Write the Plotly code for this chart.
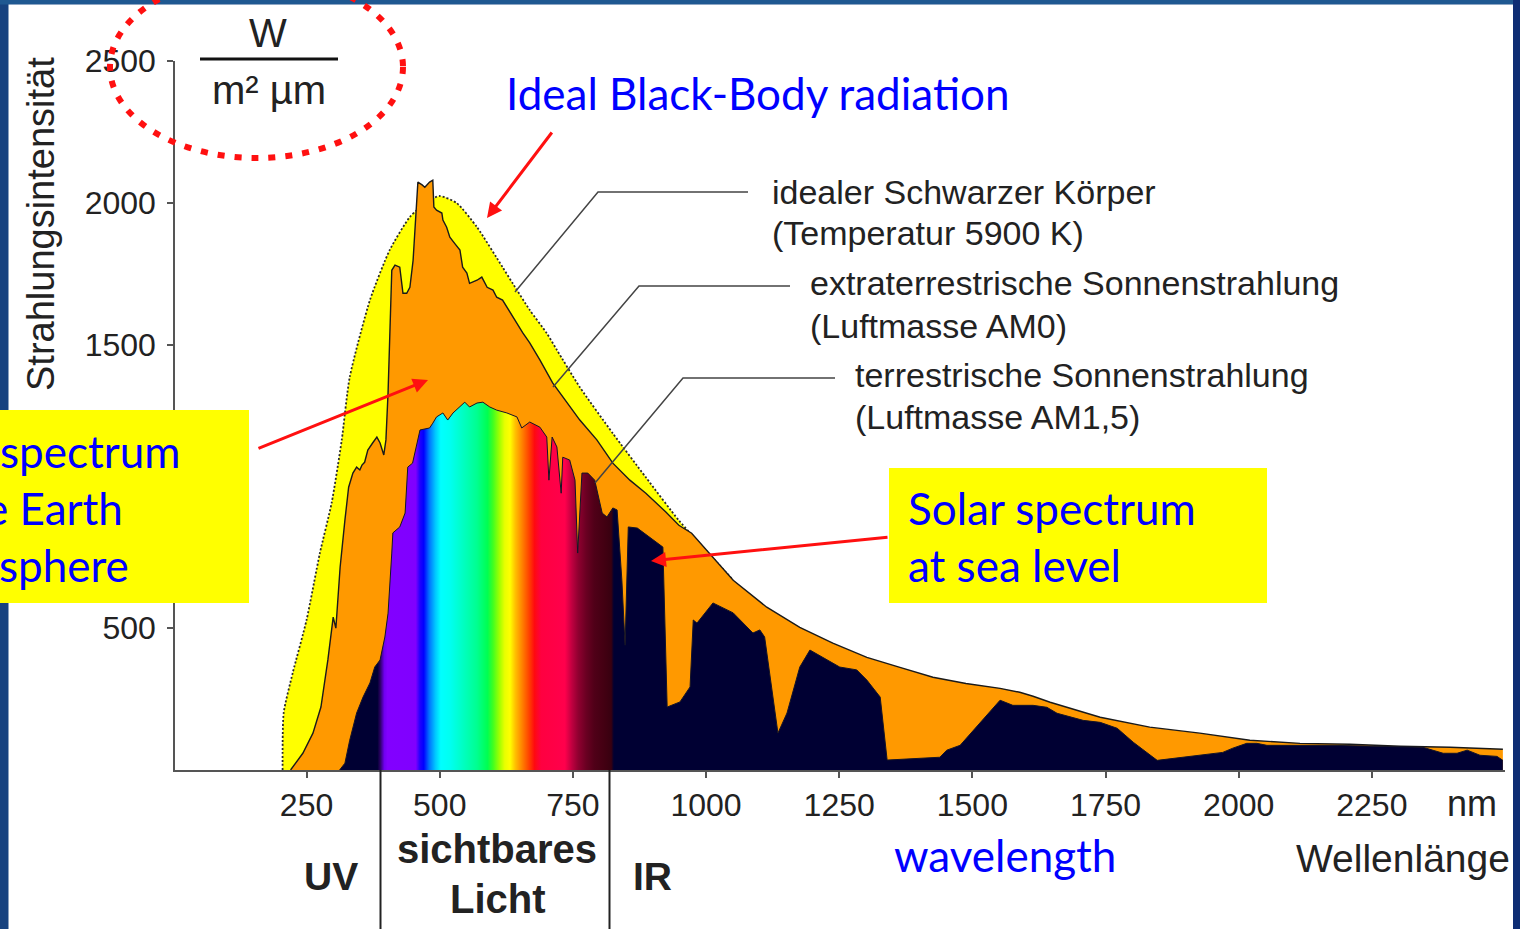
import plotly.graph_objects as go

# ---- spectra: wavelength in nm, spectral irradiance in W/(m² µm) ----
bb_nm = [205, 207, 224, 250, 275, 297, 316, 331, 369, 406, 444, 476, 500, 532,
         570, 618, 637, 669, 701, 720, 763, 825, 887, 949, 1000, 1051]
bb_val = [0, 201, 342, 529, 765, 941, 1163, 1385, 1657, 1833, 1950, 2003, 2024, 1999,
          1914, 1773, 1716, 1622, 1540, 1481, 1350, 1187, 1032, 880, 774, 669]

am0_nm = [220, 243, 262, 277, 290, 298, 300, 305, 313, 322, 329, 337, 344, 350, 354,
          359, 365, 374, 382, 388, 395, 399, 403, 410, 416, 425, 431, 438, 444, 450,
          458, 459, 467, 472, 481, 487, 489, 494, 504, 506, 513, 519, 528, 538, 543,
          551, 556, 570, 579, 589, 600, 607, 618, 626, 637, 656, 669, 688, 712, 739,
          763, 795, 825, 857, 887, 925, 949, 973, 999, 1051, 1114, 1176, 1238, 1302,
          1364, 1426, 1488, 1552, 1589, 1614, 1646, 1740, 1833, 1927, 2021, 2115,
          2209, 2303, 2397, 2496]
am0_val = [0, 59, 130, 222, 388, 504, 539, 500, 715, 881, 997, 1047, 1068, 1058, 1075,
           1085, 1128, 1153, 1174, 1153, 1111, 1164, 1330, 1762, 1780, 1773, 1681, 1681,
           1702, 1797, 2055, 2073, 2063, 2055, 2073, 2080, 1985, 1974, 1964, 1939, 1914,
           1879, 1857, 1833, 1773, 1752, 1716, 1727, 1738, 1702, 1692, 1667, 1657, 1632,
           1597, 1541, 1506, 1446, 1365, 1294, 1234, 1164, 1082, 1022, 976, 909, 863,
           835, 779, 669, 574, 503, 447, 397, 362, 327, 305, 288, 274, 260, 239, 186,
           151, 130, 105, 94, 91, 84, 80, 73]

am15_nm = [312, 322, 331, 344, 356, 369, 378, 388, 397, 403, 410, 412, 425, 435, 440,
           449, 463, 481, 487, 494, 506, 515, 525, 538, 547, 556, 570, 581, 594, 607,
           626, 645, 654, 669, 688, 701, 705, 711, 720, 728, 731, 744, 754, 759, 767,
           778, 791, 805, 814, 825, 833, 842, 848, 854, 871, 919, 927, 951, 970, 976,
           983, 1013, 1051, 1088, 1101, 1110, 1125, 1135, 1152, 1176, 1195, 1227, 1251,
           1283, 1302, 1327, 1340, 1439, 1452, 1477, 1552, 1576, 1614, 1640, 1659, 1708,
           1740, 1772, 1802, 1847, 1927, 1970, 1989, 2015, 2034, 2053, 2177, 2346, 2384,
           2410, 2429, 2453, 2485, 2496]
am15_val = [0, 24, 105, 201, 257, 307, 363, 388, 469, 553, 765, 836, 857, 906, 1068,
            1082, 1199, 1206, 1223, 1245, 1259, 1234, 1259, 1280, 1297, 1280, 1294, 1297,
            1280, 1269, 1259, 1245, 1206, 1227, 1209, 1174, 1022, 1174, 1139, 976, 1103,
            1093, 1022, 765, 1047, 1047, 1022, 906, 892, 924, 917, 669, 440, 857, 853,
            786, 222, 240, 293, 529, 518, 589, 554, 483, 494, 469, 257, 130, 201, 363,
            423, 388, 363, 353, 317, 257, 35, 45, 70, 87, 246, 228, 228, 221, 200, 175,
            168, 147, 98, 34, 52, 62, 77, 94, 94, 87, 87, 80, 59, 59, 70, 52, 48, 34]

# colour of the sea-level spectrum along the wavelength axis (visible band as rainbow)
band_nm = [0, 383, 388, 396, 402, 455, 463, 470, 480, 492, 502, 520, 545, 570, 590,
           600, 612, 622, 632, 642, 655, 668, 678, 690, 735, 748, 760, 775, 790, 810,
           822, 827, 2500]
band_col = ["#000033", "#000033", "#2a0060", "#7000f0", "#8200ff", "#8000ff", "#2000ff",
            "#0000ff", "#0070ff", "#00c8ff", "#00ffff", "#00fff0", "#00ffc0", "#00ff90",
            "#00ff50", "#40ff20", "#a0ff00", "#e8ff00", "#ffff00", "#ffc000", "#ff8000",
            "#ff4000", "#ff0a10", "#ff0040", "#ff004c", "#c00040", "#900030", "#6a0022",
            "#500018", "#420012", "#380010", "#000033", "#000033"]

x_ticks = [250, 500, 750, 1000, 1250, 1500, 1750, 2000, 2250]
y_ticks = [500, 1000, 1500, 2000, 2500]

# ---- page geometry ----
W, H = 1520, 929
ML, MR, MT, MB = 175, 15, 61, 159
PW, PH = W - ML - MR, H - MT - MB


def px(x):
    return (x - ML) / PW


def py(y):
    return (H - MB - y) / PH


GREY_FONT = "Liberation Sans, Arial, sans-serif"
BLUE_FONT = "Lato, Open Sans, sans-serif"
BLUE = "#0000ff"
RED = "#ff1010"

fig = go.Figure()

fig.add_trace(go.Scatter(
    x=bb_nm, y=bb_val, mode="lines", fill="tozeroy", fillcolor="#ffff00",
    line=dict(color="#2a2a2a", width=1.8, dash="2px,2px", shape="spline", smoothing=0.6),
    hoverinfo="skip", showlegend=False))

fig.add_trace(go.Scatter(
    x=am0_nm, y=am0_val, mode="lines", fill="tozeroy", fillcolor="#ff9900",
    line=dict(color="#1a1a1a", width=1.4),
    hoverinfo="skip", showlegend=False))

fig.add_trace(go.Scatter(
    x=am15_nm, y=am15_val, mode="lines", fill="tozeroy",
    fillgradient=dict(type="horizontal", start=0, stop=2500,
                      colorscale=[[n / 2500, c] for n, c in zip(band_nm, band_col)]),
    line=dict(color="#141428", width=1),
    hoverinfo="skip", showlegend=False))

shapes = [
    # slide frame
    dict(type="rect", xref="paper", yref="paper", x0=px(0), x1=px(W), y0=py(0), y1=py(4.5),
         fillcolor="#1f5891", line_width=0, layer="below"),
    dict(type="rect", xref="paper", yref="paper", x0=px(1513), x1=px(W), y0=py(0), y1=py(H),
         fillcolor="#0e2d74", line_width=0, layer="below"),
    dict(type="rect", xref="paper", yref="paper", x0=px(8.5), x1=px(1513), y0=py(4.5), y1=py(H),
         fillcolor="white", line_width=0, layer="below"),
    # UV / visible / IR separators
    dict(type="line", xref="paper", yref="paper", x0=px(380.5), x1=px(380.5), y0=py(770), y1=py(H),
         line=dict(color="#222", width=2)),
    dict(type="line", xref="paper", yref="paper", x0=px(609.5), x1=px(609.5), y0=py(770), y1=py(H),
         line=dict(color="#222", width=2)),
    # unit fraction bar
    dict(type="line", xref="paper", yref="paper", x0=px(200), x1=px(338), y0=py(59), y1=py(59),
         line=dict(color="#111", width=3)),
    # label leader lines
    dict(type="path", xref="paper", yref="paper",
         path=f"M{px(748)},{py(192)} L{px(598)},{py(192)} L{px(515)},{py(292)}",
         line=dict(color="#444", width=1.5)),
    dict(type="path", xref="paper", yref="paper",
         path=f"M{px(790)},{py(286)} L{px(639)},{py(286)} L{px(553)},{py(387)}",
         line=dict(color="#444", width=1.5)),
    dict(type="path", xref="paper", yref="paper",
         path=f"M{px(835)},{py(378)} L{px(683)},{py(378)} L{px(595)},{py(483)}",
         line=dict(color="#444", width=1.5)),
    # highlighted boxes
    dict(type="rect", xref="paper", yref="paper", x0=px(889), x1=px(1267), y0=py(603), y1=py(468),
         fillcolor="#ffff00", line_width=0, layer="above"),
    dict(type="rect", xref="paper", yref="paper", x0=px(0), x1=px(249), y0=py(603), y1=py(410),
         fillcolor="#ffff00", line_width=0, layer="above"),
    # dotted ring around the unit
    dict(type="circle", xref="paper", yref="paper", x0=px(110), x1=px(403), y0=py(158), y1=py(-24),
         line=dict(color=RED, width=6, dash="7px,10px"), layer="above"),
]


def label(text, x, y, size, color="#222", family=GREY_FONT, xanchor="left", **kw):
    return dict(text=text, x=px(x), y=py(y), xref="paper", yref="paper", showarrow=False,
                xanchor=xanchor, yanchor="middle", font=dict(size=size, color=color, family=family), **kw)


def arrow(head_x, head_y, tail_x, tail_y):
    return dict(text="", x=px(head_x), y=py(head_y), xref="paper", yref="paper",
                ax=tail_x - head_x, ay=tail_y - head_y, axref="pixel", ayref="pixel",
                showarrow=True, arrowhead=2, arrowsize=1, arrowwidth=3, arrowcolor=RED,
                standoff=0, startstandoff=0)


annotations = [
    label("idealer Schwarzer Körper", 770, 192, 34),
    label("(Temperatur 5900 K)", 770, 233, 34),
    label("extraterrestrische Sonnenstrahlung", 808, 283, 34),
    label("(Luftmasse AM0)", 808, 326, 34),
    label("terrestrische Sonnenstrahlung", 853, 375, 34),
    label("(Luftmasse AM1,5)", 853, 417, 34),
    label("W", 268, 33, 40, xanchor="center"),
    label("m² µm", 269, 90, 40, xanchor="center"),
    label("Strahlungsintensität", 41, 224, 38, xanchor="center", textangle=-90),
    label("nm", 1445, 803, 36),
    label("Wellenlänge", 1294, 858, 39),
    label("<b>UV</b>", 331, 876, 39, xanchor="center"),
    label("<b>sichtbares</b>", 497, 849, 40, xanchor="center"),
    label("<b>Licht</b>", 498, 899, 40, xanchor="center"),
    label("<b>IR</b>", 652, 876, 39, xanchor="center"),
    label("Ideal Black-Body radiation", 504, 93, 44, color=BLUE, family=BLUE_FONT),
    label("Solar spectrum", 906, 508, 44, color=BLUE, family=BLUE_FONT),
    label("at sea level", 906, 565, 44, color=BLUE, family=BLUE_FONT),
    label("spectrum", -2, 451, 44, color=BLUE, family=BLUE_FONT),
    label("e Earth", -17, 508, 44, color=BLUE, family=BLUE_FONT),
    label("sphere", -3, 565, 44, color=BLUE, family=BLUE_FONT),
    label("wavelength", 892, 855, 44, color=BLUE, family=BLUE_FONT),
    arrow(487, 218, 553, 131),
    arrow(428, 380, 257, 449),
    arrow(651, 561, 889, 537),
]

fig.update_layout(
    width=W, height=H, margin=dict(l=ML, r=MR, t=MT, b=MB, pad=0),
    paper_bgcolor="#17427f", plot_bgcolor="rgba(0,0,0,0)",
    shapes=shapes, annotations=annotations, showlegend=False,
    xaxis=dict(range=[3, 2500], tickvals=x_ticks, ticktext=[str(v) for v in x_ticks],
               showgrid=False, zeroline=False, showline=True, linecolor="#555", linewidth=1.5,
               ticks="outside", ticklen=6, tickwidth=1.5, tickcolor="#555",
               tickfont=dict(family=GREY_FONT, size=32, color="#222"), ticklabelstandoff=0),
    yaxis=dict(range=[0, 2500], tickvals=y_ticks, ticktext=[str(v) for v in y_ticks],
               showgrid=False, zeroline=False, showline=True, linecolor="#555", linewidth=1.5,
               ticks="outside", ticklen=6, tickwidth=1.5, tickcolor="#555",
               tickfont=dict(family=GREY_FONT, size=32, color="#222"), ticklabelstandoff=5),
)

fig.write_html("out.html")
